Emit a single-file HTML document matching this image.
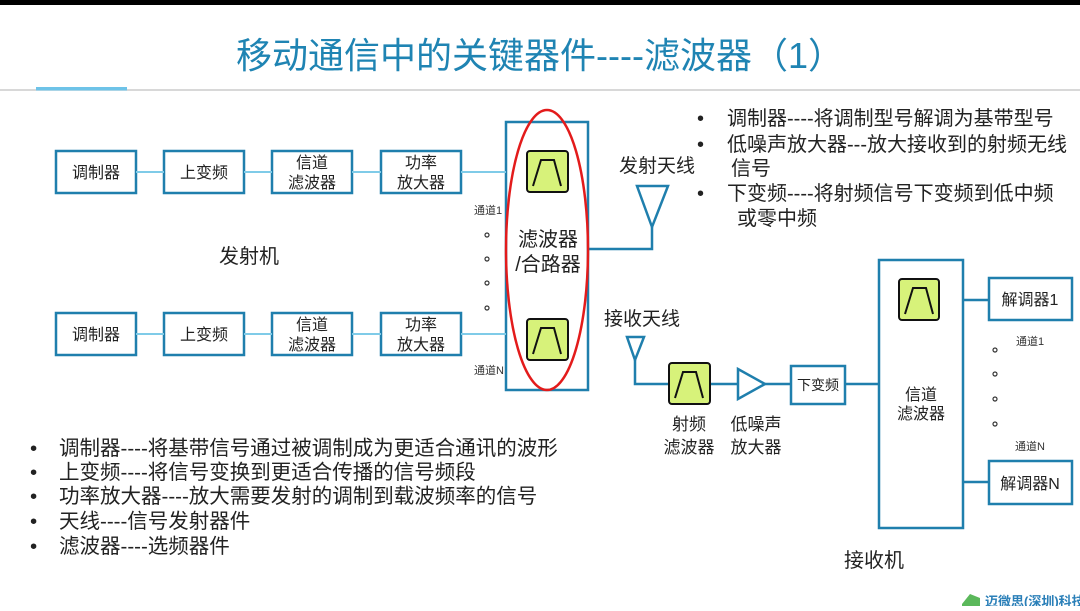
<!DOCTYPE html>
<html><head><meta charset="utf-8"><style>
html,body{margin:0;padding:0;background:#fff;}
svg text{font-family:"Liberation Sans","Noto Sans CJK SC",sans-serif;}
</style></head><body>
<svg width="1080" height="606" viewBox="0 0 1080 606" xmlns="http://www.w3.org/2000/svg">
<rect x="0" y="0" width="1080" height="5" fill="#000"/>
<text x="540" y="68" text-anchor="middle" font-size="36" fill="#1f84b3">移动通信中的关键器件----滤波器（1）</text>
<line x1="0" y1="90" x2="1080" y2="90" stroke="#ccc" stroke-width="1.5"/>
<rect x="36" y="87" width="91" height="3.5" fill="#6ec3e8"/>

<g fill="none" stroke="#1f7fad" stroke-width="2.5">
<rect x="56" y="151" width="80" height="42"/>
<rect x="164" y="151" width="80" height="42"/>
<rect x="272" y="151" width="80" height="42"/>
<rect x="381" y="151" width="80" height="42"/>
<rect x="56" y="313" width="80" height="42"/>
<rect x="164" y="313" width="80" height="42"/>
<rect x="272" y="313" width="80" height="42"/>
<rect x="381" y="313" width="80" height="42"/>
<rect x="506" y="122" width="82" height="268"/>
<polyline points="588,249 652,249 652,227"/>
<polygon points="637,186 668,186 652,227"/>
<polygon points="627,337 644,337 635,360"/>
<polyline points="635,360 635,384 669,384"/>
<line x1="710" y1="384" x2="738" y2="384"/>
<polygon points="738,369 738,399 765,384"/>
<line x1="765" y1="384" x2="791" y2="384"/>
<rect x="791" y="366" width="54" height="38"/>
<line x1="845" y1="384" x2="879" y2="384"/>
<rect x="879" y="260" width="84" height="268"/>
<line x1="963" y1="300" x2="989" y2="300"/>
<line x1="963" y1="482" x2="989" y2="482"/>
<rect x="989" y="278" width="83" height="42"/>
<rect x="989" y="461" width="83" height="43"/>
</g>
<g stroke="#7fcbe8" stroke-width="2">
<line x1="136" y1="172" x2="164" y2="172"/><line x1="244" y1="172" x2="272" y2="172"/><line x1="352" y1="172" x2="381" y2="172"/><line x1="461" y1="172" x2="506" y2="172"/>
<line x1="136" y1="334" x2="164" y2="334"/><line x1="244" y1="334" x2="272" y2="334"/><line x1="352" y1="334" x2="381" y2="334"/><line x1="461" y1="334" x2="506" y2="334"/>
</g>

<g>
<rect x="527" y="151" width="41" height="41" rx="3" fill="#d7f27a" stroke="#111" stroke-width="2"/>
<polyline points="533,186 541,160 554,160 561,186" fill="none" stroke="#111" stroke-width="2"/>
<rect x="527" y="319" width="41" height="41" rx="3" fill="#d7f27a" stroke="#111" stroke-width="2"/>
<polyline points="533,354 541,328 554,328 561,354" fill="none" stroke="#111" stroke-width="2"/>
<rect x="669" y="363" width="41" height="41" rx="3" fill="#d7f27a" stroke="#111" stroke-width="2"/>
<polyline points="675,398 683,372 696,372 703,398" fill="none" stroke="#111" stroke-width="2"/>
<rect x="899" y="279" width="40" height="41" rx="3" fill="#d7f27a" stroke="#111" stroke-width="2"/>
<polyline points="905,314 913,288 926,288 933,314" fill="none" stroke="#111" stroke-width="2"/>
</g>

<ellipse cx="547" cy="250" rx="41" ry="140" fill="none" stroke="#e31b1b" stroke-width="2.5"/>

<g font-size="16" fill="#222" text-anchor="middle">
<text x="96" y="178">调制器</text><text x="204" y="178">上变频</text>
<text x="312" y="168">信道</text><text x="312" y="188">滤波器</text>
<text x="421" y="168">功率</text><text x="421" y="188">放大器</text>
<text x="96" y="340">调制器</text><text x="204" y="340">上变频</text>
<text x="312" y="330">信道</text><text x="312" y="350">滤波器</text>
<text x="421" y="330">功率</text><text x="421" y="350">放大器</text>
<text x="818" y="390" font-size="14">下变频</text>
<text x="1030" y="305">解调器1</text>
<text x="1030" y="489">解调器N</text>
<text x="921" y="400">信道</text><text x="921" y="419">滤波器</text>
</g>
<g font-size="20" fill="#222" text-anchor="middle">
<text x="548" y="246">滤波器</text><text x="548" y="271">/合路器</text>
<text x="249" y="263">发射机</text>
<text x="874" y="567">接收机</text>
<text x="657" y="172" font-size="19">发射天线</text>
<text x="642" y="325" font-size="19">接收天线</text>
<text x="689" y="430" font-size="17">射频</text><text x="689" y="453" font-size="17">滤波器</text>
<text x="756" y="430" font-size="17">低噪声</text><text x="756" y="453" font-size="17">放大器</text>
</g>
<g font-size="11" fill="#333">
<text x="474" y="214">通道1</text><text x="474" y="374">通道N</text>
<text x="1016" y="345">通道1</text><text x="1015" y="450">通道N</text>
</g>
<g fill="none" stroke="#333" stroke-width="1.2">
<circle cx="487" cy="235" r="2"/><circle cx="487" cy="259" r="2"/><circle cx="487" cy="283" r="2"/><circle cx="487" cy="308" r="2"/>
<circle cx="995" cy="350" r="2"/><circle cx="995" cy="374" r="2"/><circle cx="995" cy="399" r="2"/><circle cx="995" cy="424" r="2"/>
</g>

<g font-size="20" fill="#222">
<text x="697" y="125">•</text><text x="727" y="125">调制器----将调制型号解调为基带型号</text>
<text x="697" y="151">•</text><text x="727" y="151">低噪声放大器---放大接收到的射频无线</text>
<text x="731" y="175">信号</text>
<text x="697" y="200">•</text><text x="727" y="200">下变频----将射频信号下变频到低中频</text>
<text x="737" y="225">或零中频</text>
</g>
<g font-size="20.5" fill="#222">
<text x="30" y="455">•</text><text x="59" y="455">调制器----将基带信号通过被调制成为更适合通讯的波形</text>
<text x="30" y="479">•</text><text x="59" y="479">上变频----将信号变换到更适合传播的信号频段</text>
<text x="30" y="503">•</text><text x="59" y="503">功率放大器----放大需要发射的调制到载波频率的信号</text>
<text x="30" y="528">•</text><text x="59" y="528">天线----信号发射器件</text>
<text x="30" y="553">•</text><text x="59" y="553">滤波器----选频器件</text>
</g>
<polygon points="962,604 970,594 980,598 980,606 962,606" fill="#5bb85b"/>
<text x="985" y="606" font-size="13" fill="#2a7fb8" font-weight="bold">迈微思(深圳)科技</text>
</svg>
</body></html>
